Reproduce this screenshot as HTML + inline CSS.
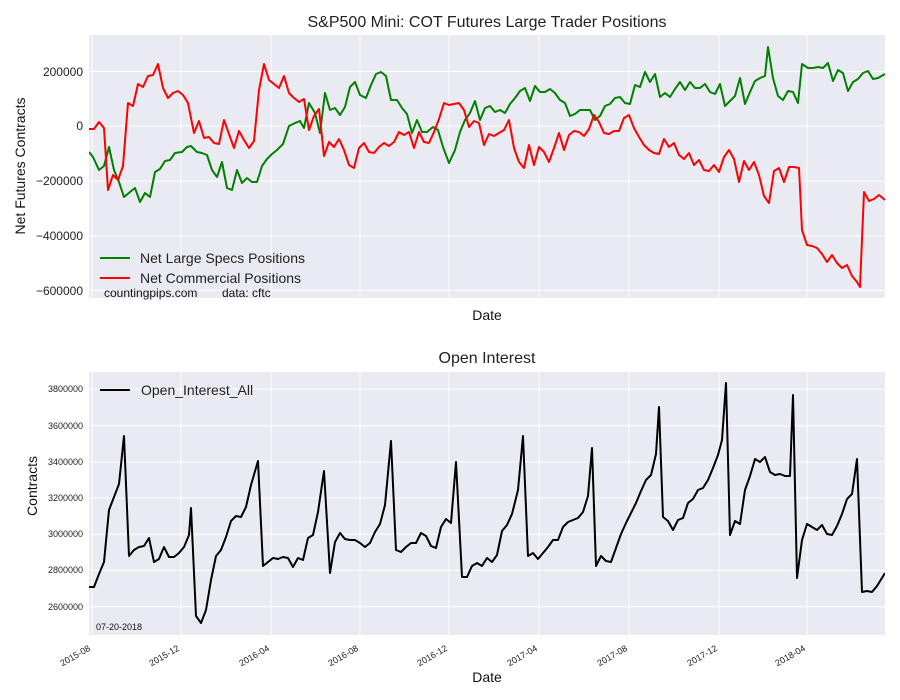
<!DOCTYPE html>
<html><head><meta charset="utf-8"><style>body{margin:0;background:#fff}svg{display:block;font-family:"Liberation Sans",sans-serif}</style></head><body>
<svg width="900" height="700" viewBox="0 0 900 700" xmlns="http://www.w3.org/2000/svg">
<rect width="900" height="700" fill="#fff"/>
<text x="487" y="27" font-size="16" text-anchor="middle" fill="#222">S&amp;P500 Mini: COT Futures Large Trader Positions</text>
<rect x="89" y="35" width="796" height="263" fill="#eaeaf2"/>
<g stroke="#fff" stroke-width="1">
<line x1="89" x2="885" y1="71.5" y2="71.5"/><line x1="89" x2="885" y1="126" y2="126"/><line x1="89" x2="885" y1="181" y2="181"/><line x1="89" x2="885" y1="236" y2="236"/><line x1="89" x2="885" y1="290.5" y2="290.5"/>
<line x1="92" x2="92" y1="35" y2="298"/><line x1="181" x2="181" y1="35" y2="298"/><line x1="271" x2="271" y1="35" y2="298"/><line x1="360" x2="360" y1="35" y2="298"/><line x1="449" x2="449" y1="35" y2="298"/><line x1="539" x2="539" y1="35" y2="298"/><line x1="629" x2="629" y1="35" y2="298"/><line x1="719" x2="719" y1="35" y2="298"/><line x1="807" x2="807" y1="35" y2="298"/>
</g>
<g font-size="12" fill="#222" text-anchor="end">
<text x="83" y="76">200000</text><text x="83" y="130">0</text><text x="83" y="185">−200000</text><text x="83" y="240">−400000</text><text x="83" y="295">−600000</text>
</g>
<text transform="translate(25,166) rotate(-90)" font-size="14" text-anchor="middle" fill="#111">Net Futures Contracts</text>
<text x="487" y="320" font-size="14" text-anchor="middle" fill="#111">Date</text>
<svg x="89" y="35" width="796" height="263" viewBox="89 35 796 263" overflow="hidden">
<polyline fill="none" stroke="#008000" stroke-width="2" stroke-linejoin="round" points="89,152 93,157 99,170 104,166 109,147 114,170 119,182 124,197 130,192 135,188 140,202 145,193 150,197 155,172 160,169 165,161 170,160 175,153 182,152 187,147 191,146 197,152 202,153 207,155 212,170 217,177 222,162 227,188 232,190 237,170 242,183 247,178 252,182 257,182 262,166 267,159 272,154 277,150 283,144 289,126 295,123 300,121 304,128 309,103 315,113 320,133 325,93 330,110 335,108 340,115 345,107 350,87 355,82 360,95 366,98 371,85 376,74 381,72 386,76 391,100 397,100 402,108 407,114 412,133 417,120 422,132 427,132 433,127 438,130 443,147 449,163 455,150 460,132 465,120 470,113 475,101 480,120 485,108 490,106 495,112 500,110 505,113 510,104 515,98 520,91 525,88 530,101 535,86 540,92 545,92 550,89 555,93 560,100 565,103 570,116 575,114 580,110 585,110 590,110 595,120 600,116 605,106 610,104 615,98 620,97 625,103 630,104 635,85 640,87 645,72 650,82 655,74 660,97 665,93 670,97 675,89 680,82 685,90 690,82 695,88 700,88 705,84 710,92 715,94 720,84 725,106 730,101 735,96 740,78 745,104 750,92 755,81 760,78 765,76 768,47 773,78 778,96 783,100 788,91 793,92 798,103 802,64 808,68 813,68 818,67 823,68 828,63 833,81 838,70 843,73 848,91 853,82 858,79 863,73 868,71 873,79 878,78 885,74"/>
<polyline fill="none" stroke="#ff0000" stroke-width="2" stroke-linejoin="round" points="89,129 94,129 99,122 104,128 108,190 113,175 118,180 123,166 128,103 133,106 138,84 143,87 148,76 153,75 158,64 163,88 168,98 173,93 178,91 183,95 188,103 194,133 199,121 204,138 209,137 214,143 219,144 224,120 229,134 234,148 239,131 244,140 249,148 254,141 259,90 264,64 269,80 274,84 279,88 284,76 289,93 294,98 299,102 304,99 309,130 314,116 319,109 324,156 329,142 334,147 339,139 344,150 349,165 354,168 359,148 364,143 369,152 374,153 379,147 384,143 389,146 394,142 399,132 404,135 409,132 414,148 419,132 424,142 429,143 434,132 439,119 444,103 449,105 454,104 459,103 464,110 469,127 474,121 479,123 484,145 489,134 494,136 499,133 504,130 509,120 514,148 519,162 524,168 529,145 534,165 539,147 544,152 549,162 554,148 559,133 564,150 569,135 574,131 579,132 584,136 589,129 594,115 599,122 604,133 609,134 614,131 619,131 624,118 629,115 634,128 639,137 644,145 649,150 654,153 659,154 664,139 669,147 674,143 679,155 684,159 689,153 694,165 699,160 704,170 709,171 714,165 719,172 724,157 729,150 734,159 739,182 744,161 749,170 754,162 759,175 764,196 769,203 774,171 779,168 784,182 789,167 794,167 799,168 802,230 807,245 812,246 817,248 822,254 827,262 832,255 837,263 842,268 847,265 852,276 857,282 860,287 864,192 869,201 874,199 879,195 885,200"/>
</svg>
<line x1="100" x2="130" y1="258" y2="258" stroke="#008000" stroke-width="2"/>
<text x="140" y="263" font-size="14" fill="#222">Net Large Specs Positions</text>
<line x1="100" x2="130" y1="278" y2="278" stroke="#ff0000" stroke-width="2"/>
<text x="140" y="283" font-size="14" fill="#222">Net Commercial Positions</text>
<text x="104" y="297" font-size="12" fill="#111">countingpips.com</text>
<text x="222" y="297" font-size="12" fill="#111">data: cftc</text>

<text x="487" y="363" font-size="16" text-anchor="middle" fill="#222">Open Interest</text>
<rect x="89" y="372" width="796" height="263" fill="#eaeaf2"/>
<g stroke="#fff" stroke-width="1">
<line x1="89" x2="885" y1="389" y2="389"/><line x1="89" x2="885" y1="425.7" y2="425.7"/><line x1="89" x2="885" y1="462" y2="462"/><line x1="89" x2="885" y1="498" y2="498"/><line x1="89" x2="885" y1="534.3" y2="534.3"/><line x1="89" x2="885" y1="570.5" y2="570.5"/><line x1="89" x2="885" y1="606.7" y2="606.7"/>
<line x1="92" x2="92" y1="372" y2="635"/><line x1="181" x2="181" y1="372" y2="635"/><line x1="271" x2="271" y1="372" y2="635"/><line x1="360" x2="360" y1="372" y2="635"/><line x1="449" x2="449" y1="372" y2="635"/><line x1="539" x2="539" y1="372" y2="635"/><line x1="629" x2="629" y1="372" y2="635"/><line x1="719" x2="719" y1="372" y2="635"/><line x1="807" x2="807" y1="372" y2="635"/>
</g>
<g font-size="9" fill="#222" text-anchor="end">
<text x="83" y="392">3800000</text><text x="83" y="429">3600000</text><text x="83" y="465">3400000</text><text x="83" y="501">3200000</text><text x="83" y="537">3000000</text><text x="83" y="573">2800000</text><text x="83" y="610">2600000</text>
</g>
<text transform="translate(37,486) rotate(-90)" font-size="14" text-anchor="middle" fill="#111">Contracts</text>
<svg x="89" y="372" width="796" height="263" viewBox="89 372 796 263" overflow="hidden">
<polyline fill="none" stroke="#000" stroke-width="2" stroke-linejoin="round" points="89,587 94,587 99,574 104,562 109,510 114,497 119,484 124,436 129,556 134,550 139,547 144,546 149,538 154,562 159,559 164,547 169,557 174,557 179,553 184,547 189,535 191,508 196,616 201,623 206,610 211,580 216,556 221,550 226,537 231,521 236,516 241,517 246,507 251,485 258,461 263,566 268,562 273,558 278,559 283,557 288,558 293,567 298,558 303,560 308,538 313,535 318,512 324,471 330,573 335,542 340,533 345,539 350,540 355,540 360,543 365,547 370,543 375,532 380,524 385,505 391,441 396,550 401,552 406,547 411,543 416,543 421,533 426,536 431,546 436,548 441,527 446,519 451,523 456,462 462,577 467,577 472,566 477,563 482,566 487,558 492,562 497,555 502,531 507,525 512,514 518,490 523,436 528,556 533,553 538,559 543,553 548,547 553,540 558,540 563,527 568,522 573,520 578,518 583,512 588,496 592,448 596,566 601,556 606,561 611,562 616,548 621,534 626,523 631,513 636,503 641,491 646,480 651,475 656,454 659,407 663,517 668,521 673,530 678,520 683,518 688,503 693,499 698,490 703,488 708,480 713,468 718,455 722,440 726,383 730,535 735,521 740,524 745,490 750,476 755,459 760,462 765,457 770,472 775,475 780,474 785,476 790,476 793,395 797,578 802,540 807,524 812,527 817,530 822,525 827,534 832,535 837,526 842,514 847,499 852,494 857,459 862,592 867,591 872,592 877,586 885,573"/>
</svg>
<line x1="100" x2="130" y1="390" y2="390" stroke="#000" stroke-width="2"/>
<text x="141" y="395" font-size="14" fill="#222">Open_Interest_All</text>
<text x="96" y="630" font-size="9" fill="#111">07-20-2018</text>
<g font-size="9" fill="#222" text-anchor="end">
<text transform="translate(91,650) rotate(-30)">2015-08</text>
<text transform="translate(180,650) rotate(-30)">2015-12</text>
<text transform="translate(270,650) rotate(-30)">2016-04</text>
<text transform="translate(359,650) rotate(-30)">2016-08</text>
<text transform="translate(448,650) rotate(-30)">2016-12</text>
<text transform="translate(538,650) rotate(-30)">2017-04</text>
<text transform="translate(628,650) rotate(-30)">2017-08</text>
<text transform="translate(718,650) rotate(-30)">2017-12</text>
<text transform="translate(806,650) rotate(-30)">2018-04</text>
</g>
<text x="487" y="682" font-size="14" text-anchor="middle" fill="#111">Date</text>
</svg>
</body></html>
